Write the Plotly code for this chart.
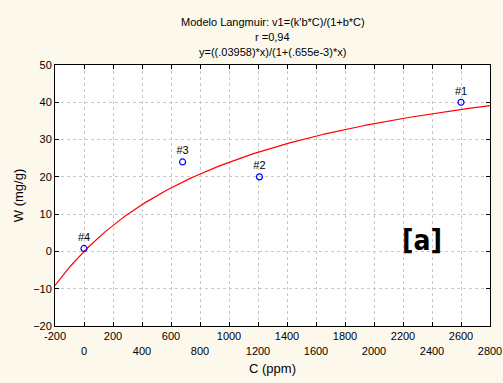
import numpy as np
import plotly.graph_objects as go

# Observed adsorption data
conc = [2600, 1210, 680, 0]
uptake = [40.0, 20.0, 24.0, 0.8]
labels = ["#1", "#2", "#3", "#4"]

# Langmuir fit parameters
k_b = 0.03958
b = 0.655e-3

x_ticks = list(range(-200, 2801, 200))
y_ticks = list(range(-20, 51, 10))

title_lines = ["Modelo Langmuir: v1=(k'b*C)/(1+b*C)",
               "r =0,94",
               "y=((.03958)*x)/(1+(.655e-3)*x)"]

xc = np.linspace(-200, 2800, 300)
yc = k_b * xc / (1 + b * xc)

FONT = "Liberation Sans, Arial, sans-serif"

fig = go.Figure()
fig.add_trace(go.Scatter(x=xc, y=yc, mode="lines",
                         line=dict(color="#ff0000", width=1.2),
                         hoverinfo="skip"))
fig.add_trace(go.Scatter(x=conc, y=uptake, mode="markers+text",
                         text=labels, textposition="top center",
                         textfont=dict(size=11, color="#000000"),
                         marker=dict(symbol="circle-open", size=6,
                                     color="#0000ff", line=dict(width=1.2))))

tick_text = [str(v) if i % 2 == 0 else "<br>" + str(v) for i, v in enumerate(x_ticks)]

# three title lines stacked above the plot area
annotations = []
for line, yp in zip(title_lines, [1.165, 1.107, 1.050]):
    annotations.append(dict(x=0.5, y=yp, xref="paper", yref="paper",
                            text=line, showarrow=False, xanchor="center",
                            yanchor="middle", font=dict(size=11)))
annotations.append(dict(x=2330, y=3, xref="x", yref="y", text="<b>[a]</b>",
                        showarrow=False,
                        font=dict(size=28,
                                  family="Liberation Sans Narrow, DejaVu Sans Condensed, Arial",
                                  color="#000000")))

fig.update_layout(
    width=503, height=383,
    paper_bgcolor="#fdf8ec", plot_bgcolor="#ffffff",
    margin=dict(l=55, r=13, t=65, b=57, autoexpand=False),
    showlegend=False,
    font=dict(family=FONT, size=11, color="#000000"),
    xaxis=dict(range=[-200, 2800], tickvals=x_ticks, ticktext=tick_text,
               automargin=False,
               showgrid=True, gridcolor="#c8c8c8", griddash="dot", gridwidth=1,
               zeroline=False, showline=True, linecolor="#000000", linewidth=1,
               mirror="ticks", ticks="inside", ticklen=4, tickcolor="#000000",
               title=dict(text="C (ppm)", standoff=8)),
    yaxis=dict(range=[-20, 50], tickvals=y_ticks, automargin=False,
               showgrid=True, gridcolor="#c8c8c8", griddash="dot", gridwidth=1,
               zeroline=False, showline=True, linecolor="#000000", linewidth=1,
               mirror="ticks", ticks="inside", ticklen=4, tickcolor="#000000",
               title=dict(text="W (mg/g)", standoff=6)),
    annotations=annotations,
)

fig.write_html("out.html")
